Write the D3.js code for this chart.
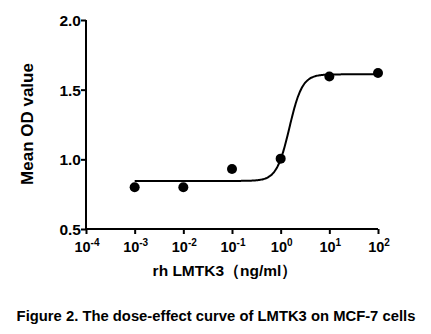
<!DOCTYPE html>
<html><head><meta charset="utf-8">
<script src="https://cdn.jsdelivr.net/npm/d3@7"></script>
<style>body{margin:0;background:#fff}svg{display:block}text{font-family:"Liberation Sans",Arial,sans-serif;font-weight:bold;fill:#000}</style>
</head><body>
<script>
const doses = [1e-3, 1e-2, 1e-1, 1e0, 1e1, 1e2];
const meanOD = [0.80, 0.80, 0.93, 1.005, 1.595, 1.62];
const xTickExps = [-4, -3, -2, -1, 0, 1, 2];
const yTicks = [0.5, 1.0, 1.5, 2.0];
// fitted 4-parameter logistic curve parameters: bottom, top, logEC50, hill
const fitBottom = 0.845, fitTop = 1.61, fitLogEC50 = 0.18, fitHill = 3.3;
const xTitle = "rh LMTK3（ng/ml）";
const yTitle = "Mean OD value";
const caption = "Figure 2. The dose-effect curve of LMTK3 on MCF-7 cells";

const W = 431, H = 334;
const svg = d3.select("body").append("svg").attr("width", W).attr("height", H);
const x = d3.scaleLog().domain([1e-4, 1e2]).range([86, 378]);
const y = d3.scaleLinear().domain([0.5, 2.0]).range([229, 20]);

const g = svg.append("g");
const yAx = g.append("g").attr("transform", "translate(86,0)")
  .call(d3.axisLeft(y).tickValues(yTicks).tickFormat(d3.format(".1f")).tickSize(5).tickSizeOuter(0));
const xAx = g.append("g").attr("transform", "translate(0,229)")
  .call(d3.axisBottom(x).tickValues(xTickExps.map(e => Math.pow(10, e))).tickFormat("").tickSize(5).tickSizeOuter(0));
[yAx, xAx].forEach(a => {
  a.select(".domain").attr("stroke", "#000").attr("stroke-width", 2);
  a.selectAll(".tick line").attr("stroke", "#000").attr("stroke-width", 2);
});
yAx.selectAll(".tick text").attr("font-size", 15.5).attr("x", -5).attr("dy", "0.36em")
  .style("font-family", '"Liberation Sans",Arial,sans-serif').style("font-weight", "bold");
yAx.selectAll(".domain").attr("d", `M0,${y(0.5)+1}V${y(2.0)}`);
xAx.selectAll(".domain").attr("d", `M${x(1e-4)-1},0H${x(1e2)}`);

xTickExps.forEach(e => {
  const t = g.append("text").attr("x", x(Math.pow(10, e)) + 1).attr("y", 252)
    .attr("text-anchor", "middle").attr("font-size", 14.5);
  t.append("tspan").text("10");
  t.append("tspan").attr("font-size", 10).attr("dy", -6).text(e < 0 ? "-" + (-e) : String(e));
});

const logs = d3.range(-3, 2.0001, 0.02);
const curve = logs.map(l => [Math.pow(10, l), fitBottom + (fitTop - fitBottom) / (1 + Math.pow(10, (fitLogEC50 - l) * fitHill))]);
g.append("path").datum(curve)
  .attr("d", d3.line().x(d => x(d[0])).y(d => y(d[1])).curve(d3.curveBasis))
  .attr("fill", "none").attr("stroke", "#000").attr("stroke-width", 2);

g.selectAll("circle.pt").data(doses).join("circle").attr("class", "pt")
  .attr("cx", d => x(d)).attr("cy", (d, i) => y(meanOD[i])).attr("r", 5).attr("fill", "#000");

svg.append("text").attr("transform", "translate(33,124) rotate(-90)").attr("text-anchor", "middle")
  .attr("font-size", 17).text(yTitle);
svg.append("text").attr("x", 225).attr("y", 276).attr("text-anchor", "middle")
  .attr("font-size", 15.5).text(xTitle);
svg.append("text").attr("x", 216).attr("y", 321).attr("text-anchor", "middle")
  .attr("font-size", 14.8).text(caption);
</script>
</body></html>
